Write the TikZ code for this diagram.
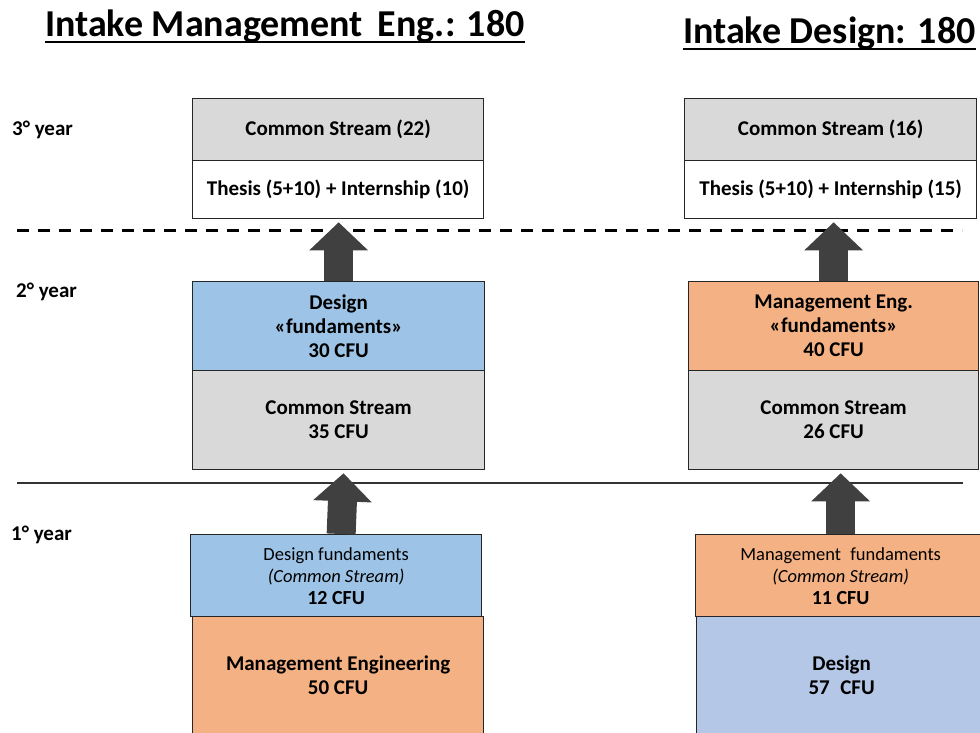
\documentclass[tikz,border=0pt]{standalone}
\usepackage{fontspec}
\setmainfont{Carlito}
\usetikzlibrary{arrows.meta}

\definecolor{boxgray}{HTML}{D9D9D9}
\definecolor{desblue}{HTML}{9DC3E6}
\definecolor{mgtorange}{HTML}{F4B183}
\definecolor{desblue2}{HTML}{B4C7E7}
\definecolor{arrowgray}{HTML}{404040}

\begin{document}
\begin{tikzpicture}[x=1pt,y=-1pt,
    box/.style={draw=black!85,line width=1.3pt,anchor=north west,inner sep=0pt,align=center,
      font=\fontsize{21}{24}\selectfont\bfseries},
    yearlbl/.style={anchor=base west,inner sep=0pt,font=\fontsize{21}{24}\selectfont\bfseries},
    intake/.style={anchor=base west,inner sep=0pt,font=\fontsize{38}{42}\selectfont\bfseries},
    upstep/.style={line width=29pt,draw=arrowgray,-{Triangle[length=28pt,width=57pt]},shorten >=3pt}]
  \useasboundingbox (0,0) rectangle (980,733);

  % titles
  \node[intake] (intakeME) at (45,37) {Intake Management\, Eng.: 180};
  \node[intake] (intakeDE) at (683,44) {Intake Design: 180};
  \draw[line width=2pt] ([yshift=-5pt]intakeME.base west) -- ([yshift=-5pt]intakeME.base east);
  \draw[line width=2pt] ([yshift=-5pt]intakeDE.base west) -- ([yshift=-5pt]intakeDE.base east);

  % years
  \node[yearlbl] (y3) at (12,136) {3° year};
  \node[yearlbl] (y2) at (16,297) {2° year};
  \node[yearlbl] (y1) at (11,540) {1° year};

  % separators
  \draw[line width=3pt,dash pattern=on 12pt off 9pt] (17,230) -- (962,230);
  \draw[line width=1.2pt,black!80] (17,483) -- (963,483);

  % 3rd year
  \node[box,fill=boxgray,minimum width=291pt,minimum height=62pt] (cs3L) at (192,98) {Common Stream (22)};
  \node[box,fill=white,minimum width=291pt,minimum height=58pt] (th3L) at (192,160) {Thesis (5+10) + Internship (10)};
  \node[box,fill=boxgray,minimum width=292pt,minimum height=62pt] (cs3R) at (684,98) {Common Stream (16)};
  \node[box,fill=white,minimum width=292pt,minimum height=58pt] (th3R) at (684,160) {Thesis (5+10) + Internship (15)};

  % 2nd year
  \node[box,fill=desblue,minimum width=292pt,minimum height=89pt] (dfL) at (192,281) {Design\\«fundaments»\\30 CFU};
  \node[box,fill=boxgray,minimum width=292pt,minimum height=99pt] (cs2L) at (192,370) {Common Stream\\35 CFU};
  \node[box,fill=mgtorange,minimum width=290pt,minimum height=89pt] (mfR) at (688,281) {Management Eng.\\«fundaments»\\40 CFU};
  \node[box,fill=boxgray,minimum width=290pt,minimum height=99pt] (cs2R) at (688,370) {Common Stream\\26 CFU};

  % 1st year
  \node[box,fill=desblue,minimum width=291pt,minimum height=82pt,font=\fontsize{18.5}{22}\selectfont] (df1L) at (190,534)
    {Design fundaments\\\textit{(Common Stream)}\\\fontsize{20}{22}\selectfont\bfseries 12 CFU};
  \node[box,fill=mgtorange,minimum width=291pt,minimum height=118pt] (me1L) at (192,616) {Management Engineering\\50 CFU};
  \node[box,fill=mgtorange,minimum width=290pt,minimum height=82pt,font=\fontsize{18.5}{22}\selectfont] (mf1R) at (695,534)
    {Management\enspace fundaments\\\textit{(Common Stream)}\\\fontsize{20}{22}\selectfont\bfseries 11 CFU};
  \node[box,fill=desblue2,minimum width=290pt,minimum height=118pt] (de1R) at (696,616) {Design\\57\enspace CFU};

  % arrows
  \draw[upstep] ([xshift=5pt]df1L.north) -- ([xshift=5pt]cs2L.south);
  \draw[upstep] (mf1R.north) -- (mf1R.north |- cs2R.south);
  \draw[upstep] (dfL.north) -- (dfL.north |- th3L.south);
  \draw[upstep] (mfR.north) -- (mfR.north |- th3R.south);
\end{tikzpicture}
\end{document}
